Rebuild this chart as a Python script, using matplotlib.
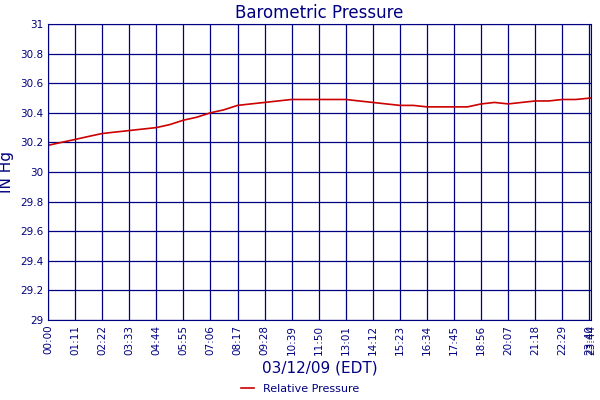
import matplotlib
matplotlib.use("Agg")
import matplotlib.pyplot as plt

# minutes after midnight and pressure (in Hg)
minutes = [0, 35, 71, 106, 142, 177, 213, 248, 284, 319, 355, 390, 426, 461, 497, 532,
           568, 603, 639, 674, 710, 745, 781, 816, 852, 887, 923, 958, 994, 1029,
           1065, 1100, 1136, 1171, 1207, 1242, 1278, 1313, 1349, 1384, 1424]
pressure = [30.18, 30.20, 30.22, 30.24, 30.26, 30.27, 30.28, 30.29, 30.30, 30.32,
            30.35, 30.37, 30.40, 30.42, 30.45, 30.46, 30.47, 30.48, 30.49, 30.49,
            30.49, 30.49, 30.49, 30.48, 30.47, 30.46, 30.45, 30.45, 30.44, 30.44,
            30.44, 30.44, 30.46, 30.47, 30.46, 30.47, 30.48, 30.48, 30.49, 30.49, 30.50]

tick_mins = list(range(0, 1424, 71)) + [1424]
tick_labels = ["%02d:%02d" % (m // 60, m % 60) for m in tick_mins]

navy = "#000080"
fig = plt.figure(figsize=(6, 4), dpi=100)
ax = fig.add_axes([0.08, 0.2, 0.905, 0.74])
ax.plot(minutes, pressure, color="#cc0000", lw=1.2, label="Relative Pressure")
ax.set_xlim(0, 1424)
ax.set_ylim(29, 31)
ax.set_yticks([29 + 0.2 * i for i in range(11)])
ax.set_yticklabels(["29", "29.2", "29.4", "29.6", "29.8", "30", "30.2", "30.4", "30.6", "30.8", "31"])
ax.set_xticks(tick_mins)
ax.set_xticklabels(tick_labels, rotation=90)
ax.tick_params(colors=navy, labelsize=7.5, length=0)
ax.grid(True, color=navy, lw=0.9)
for s in ax.spines.values():
    s.set_color(navy)
ax.set_title("Barometric Pressure", color=navy, fontsize=12, pad=4)
ax.set_ylabel("IN Hg", color=navy, fontsize=11)
ax.set_xlabel("03/12/09 (EDT)", color=navy, fontsize=11)
fig.legend(loc="lower center", bbox_to_anchor=(0.5, -0.01), frameon=False, fontsize=8,
           labelcolor=navy, handlelength=1.2)
fig.savefig("out.png")
